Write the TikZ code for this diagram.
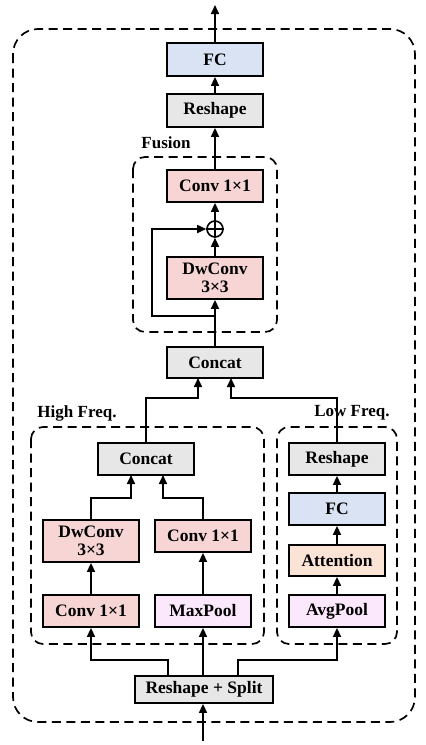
\documentclass[tikz,border=0pt]{standalone}
\usepackage{fontspec}
\setmainfont{Liberation Serif}
\usetikzlibrary{arrows.meta}
\definecolor{cblue}{HTML}{DAE3F3}
\definecolor{cgray}{HTML}{E7E7E7}
\definecolor{cpink}{HTML}{F7D5D5}
\definecolor{clav}{HTML}{FCE8FC}
\definecolor{cpeach}{HTML}{FBE4D5}
\tikzset{
  blk/.style={draw=black, line width=1.8pt, minimum width=96pt, minimum height=32pt, inner sep=0pt, align=center, font=\fontsize{17.5}{19}\selectfont\bfseries},
  arr/.style={line width=1.6pt, -{Triangle[length=9pt,width=8pt]}},
  dbox/.style={line width=1.7pt, dash pattern=on 9pt off 5.5pt},
  lbl/.style={font=\fontsize{17}{19}\selectfont\bfseries, inner sep=0pt},
}
\begin{document}
\begin{tikzpicture}[x=1pt,y=-1pt]
\useasboundingbox (0,0) rectangle (426,745);
\fill[white] (0,0) rectangle (426,745);
% dashed boxes
\draw[dbox, rounded corners=25pt] (13,29) rectangle (415,722);
\draw[dbox, rounded corners=12pt] (133,157) rectangle (277,332);
\draw[dbox, rounded corners=12pt] (31,427) rectangle (264,644);
\draw[dbox, rounded corners=12pt] (277,427) rectangle (397,644);
% labels
\node[lbl] (lfus) at (166,143) {Fusion};
\node[lbl] (lhigh) at (77,413) {High Freq.};
\node[lbl] (llow) at (352,413) {Low Freq.};
% nodes
\node[blk, fill=cblue, minimum height=33pt] (fc) at (215,59.5) {FC};
\node[blk, fill=cgray, minimum height=33pt] (rs1) at (215,110.5) {Reshape};
\node[blk, fill=cpink] (convf) at (215,186) {Conv 1×1};
\node[draw, line width=1.6pt, circle, minimum size=16pt, inner sep=0pt] (plus) at (215,229) {};
\draw[line width=1.6pt] (plus.north) -- (plus.south) (plus.west) -- (plus.east);
\node[blk, fill=cpink, minimum height=42pt] (dwf) at (215,278) {DwConv\\[-1pt]3×3};
\node[blk, fill=cgray, minimum height=31pt] (concat) at (215,362.5) {Concat};
\node[blk, fill=cgray] (hconcat) at (146,459) {Concat};
\node[blk, fill=cgray] (lrs) at (337,459) {Reshape};
\node[blk, fill=cblue] (lfc) at (337,509) {FC};
\node[blk, fill=cpink, minimum height=42pt] (dwh) at (91,541) {DwConv\\[-1pt]3×3};
\node[blk, fill=cpink] (convh2) at (203,536) {Conv 1×1};
\node[blk, fill=cpink] (convh1) at (91,611) {Conv 1×1};
\node[blk, fill=clav] (maxp) at (203,611) {MaxPool};
\node[blk, fill=cpeach, minimum height=31pt] (attn) at (337,560.5) {Attention};
\node[blk, fill=clav] (avgp) at (337,611) {AvgPool};
\node[blk, fill=cgray, minimum width=138pt, minimum height=27pt] (split) at (204,689.5) {Reshape + Split};
% coordinates
\coordinate (out) at (215,5);
\coordinate (in) at (203,741);
\coordinate (loop) at (215,316);
% connectors
\draw[arr] (fc.north) -- (out);
\draw[arr] (rs1.north) -- (fc.south);
\draw[arr] (convf.north) -- (rs1.south);
\draw[arr] (plus.north) -- (convf.south);
\draw[arr] (dwf.north) -- (plus.south);
\draw[arr] (concat.north) -- (dwf.south);
\draw[arr] (loop) -| (152,229) -- (plus.west);
\draw[arr] (hconcat.north) |- (198,398) -- (198,378);
\draw[arr] (lrs.north) |- (231,398) -- (231,378);
\draw[arr] (lfc.north) -- (lrs.south);
\draw[arr] (attn.north) -- (lfc.south);
\draw[arr] (avgp.north) -- (attn.south);
\draw[arr] (dwh.north) |- (131,498) -- (131,475);
\draw[arr] (convh2.north) |- (163,498) -- (163,475);
\draw[arr] (convh1.north) -- (dwh.south);
\draw[arr] (maxp.north) -- (convh2.south);
\draw[arr] (split.north -| 168,0) |- (91,660) -- (convh1.south);
\draw[arr] (split.north -| maxp.south) -- (maxp.south);
\draw[arr] (split.north -| 238,0) |- (337,660) -- (avgp.south);
\draw[arr] (in) -- (split.south -| in);
\end{tikzpicture}
\end{document}
